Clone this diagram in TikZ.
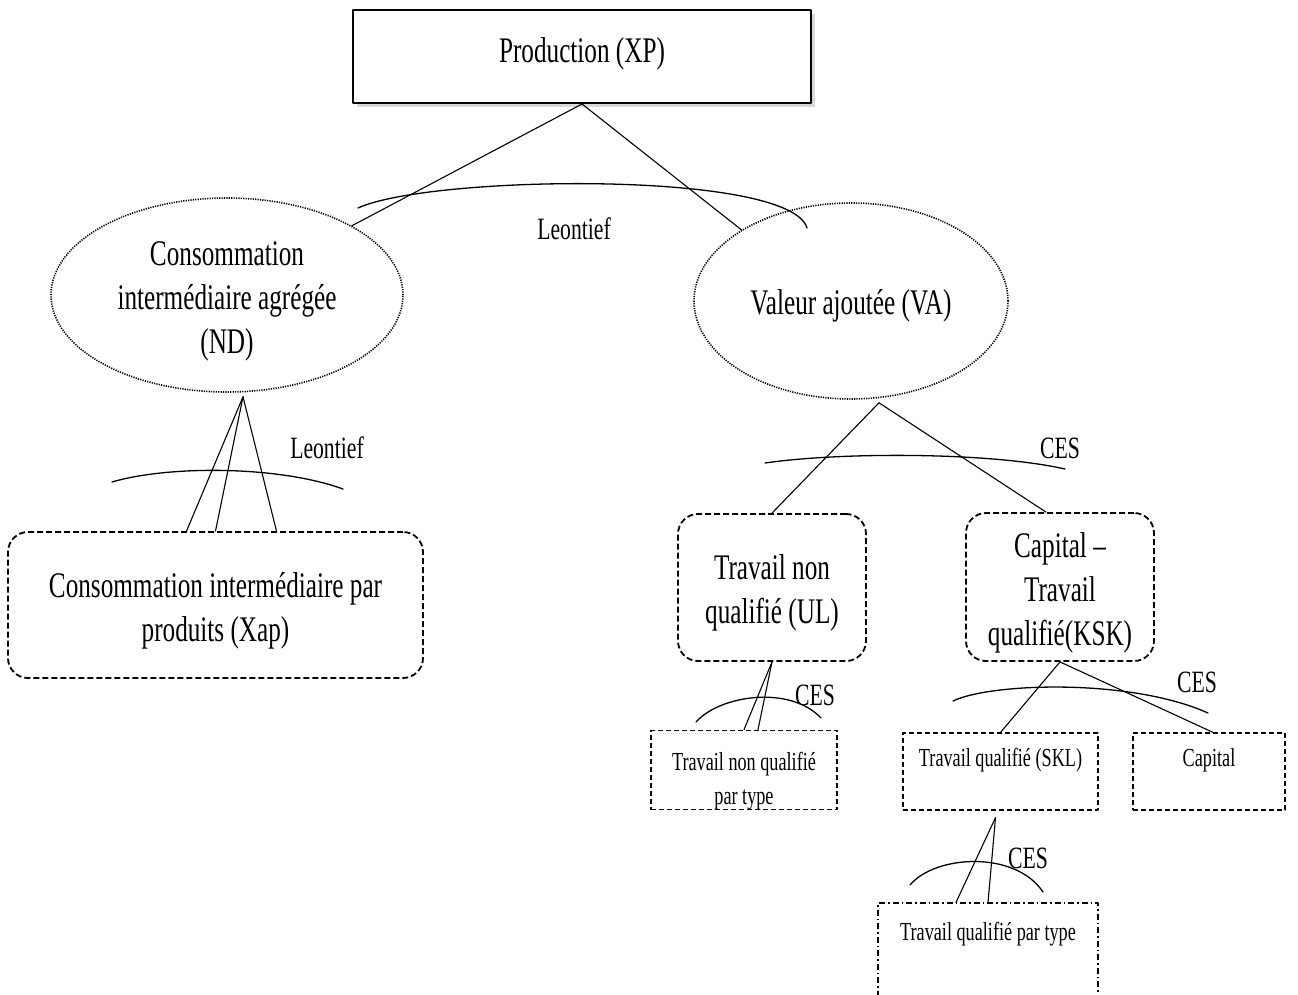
\documentclass[tikz,border=0pt]{standalone}
\usepackage{fontspec}
\setmainfont{Liberation Serif}[FakeStretch=0.7]
\usetikzlibrary{shapes.geometric,shadows}
\newcommand\hitop{\rule{0pt}{36pt}}

\begin{document}
\begin{tikzpicture}[x=1pt,y=-1pt, line join=round, line cap=round,
    big/.style={font=\fontsize{36}{44}\selectfont, align=center, execute at begin node={\rule{0pt}{35pt}}},
    small/.style={font=\fontsize{26}{34}\selectfont, align=center},
    lab/.style={font=\fontsize{31}{36}\selectfont},
    oval/.style={ellipse, draw, line width=1.6pt, line cap=butt, dash pattern=on 1.2pt off 1.2pt, inner sep=0pt, big},
    rbox/.style={rectangle, draw, rounded corners=20pt, line width=1.8pt, line cap=butt, dash pattern=on 6pt off 3pt, inner sep=0pt, big},
    sbox/.style={rectangle, draw, line width=1.2pt, line cap=butt, dash pattern=on 5pt off 3pt, inner sep=0pt, small},
    link/.style={line width=1.1pt},
    nest/.style={line width=1.3pt}]
  \useasboundingbox (0,0) rectangle (1298,995);
  \clip (0,0) rectangle (1298,995);

  \node[rectangle, draw, line width=2pt, fill=white, minimum width=458pt, minimum height=93pt, text depth=22pt,
        drop shadow={shadow xshift=4pt, shadow yshift=-4pt, opacity=.3}, big] (xp) at (582,56.5) {Production (XP)};
  \node[oval, minimum width=352pt, minimum height=194pt] (nd) at (227,295) {\hitop Consommation\\intermédiaire agrégée\\(ND)};
  \node[oval, minimum width=314pt, minimum height=196pt] (va) at (851,301) {Valeur ajoutée (VA)};
  \node[rbox, minimum width=415pt, minimum height=146pt] (xap) at (215.5,605) {\hitop Consommation intermédiaire par\\produits (Xap)};
  \node[rbox, minimum width=188pt, minimum height=147pt] (ul) at (772,587.5) {\hitop Travail non\\qualifié (UL)};
  \node[rbox, minimum width=188pt, minimum height=148pt] (ksk) at (1060,587) {\hitop Capital –\\Travail\\qualifié(KSK)};
  \node[sbox, minimum width=186pt, minimum height=77pt] (ult) at (744,770) {\rule{0pt}{40pt}Travail non qualifié\\par type};
  \node[sbox, minimum width=195pt, minimum height=77pt, text height=18pt, text depth=28pt] (skl) at (1000.5,771.5) {Travail qualifié (SKL)};
  \node[sbox, minimum width=152pt, minimum height=77pt, text height=18pt, text depth=28pt] (cap) at (1209,771.5) {Capital};
  \node[sbox, dash pattern=on 6pt off 3pt on 1.5pt off 3pt, minimum width=220pt, minimum height=107pt,
        text height=18pt, text depth=51pt] (sqt) at (988,956.5) {Travail qualifié par type};

  \coordinate (nd-b) at ([xshift=16pt,yshift=-4pt]nd.south);
  \coordinate (va-b) at ([xshift=28pt,yshift=-3pt]va.south);
  \coordinate (skl-b) at ([xshift=-5pt,yshift=-7pt]skl.south);

  \draw[link] (xp.south) -- (nd.29);
  \draw[link] (xp.south) -- (va.147);
  \draw[link] (nd-b) -- ([xshift=-29pt]xap.north);
  \draw[link] (nd-b) -- (xap.north);
  \draw[link] (nd-b) -- ([xshift=61pt]xap.north);
  \draw[link] (va-b) -- (ul.north);
  \draw[link] (va-b) -- ([xshift=-14pt]ksk.north);
  \draw[link] (ul.south) -- (ult.north);
  \draw[link] (ul.south) -- ([xshift=14pt]ult.north);
  \draw[link] (ksk.south) -- (skl.north);
  \draw[link] (ksk.south) -- ([xshift=4pt]cap.north);
  \draw[link] (skl-b) -- ([xshift=-32pt]sqt.north);
  \draw[link] (skl-b) -- (sqt.north);

  \draw[nest] (358,208) .. controls (430,175) and (790,170) .. (807,228);
  \draw[nest] (112,482) .. controls (170,465) and (280,466) .. (343,489);
  \draw[nest] (765,463) .. controls (840,452) and (990,452) .. (1065,469);
  \draw[nest] (696,722) .. controls (720,695) and (790,685) .. (821,718);
  \draw[nest] (953,701) .. controls (990,683) and (1130,678) .. (1208,713);
  \draw[nest] (910,885) .. controls (935,855) and (1015,850) .. (1043,892);

  \node[lab] (leo-a) at (574,229) {Leontief};
  \node[lab] (leo-b) at (327,448) {Leontief};
  \node[lab] (ces-a) at (1060,448) {CES};
  \node[lab] (ces-b) at (815,695) {CES};
  \node[lab] (ces-c) at (1197,682) {CES};
  \node[lab] (ces-d) at (1028,858) {CES};
\end{tikzpicture}
\end{document}
